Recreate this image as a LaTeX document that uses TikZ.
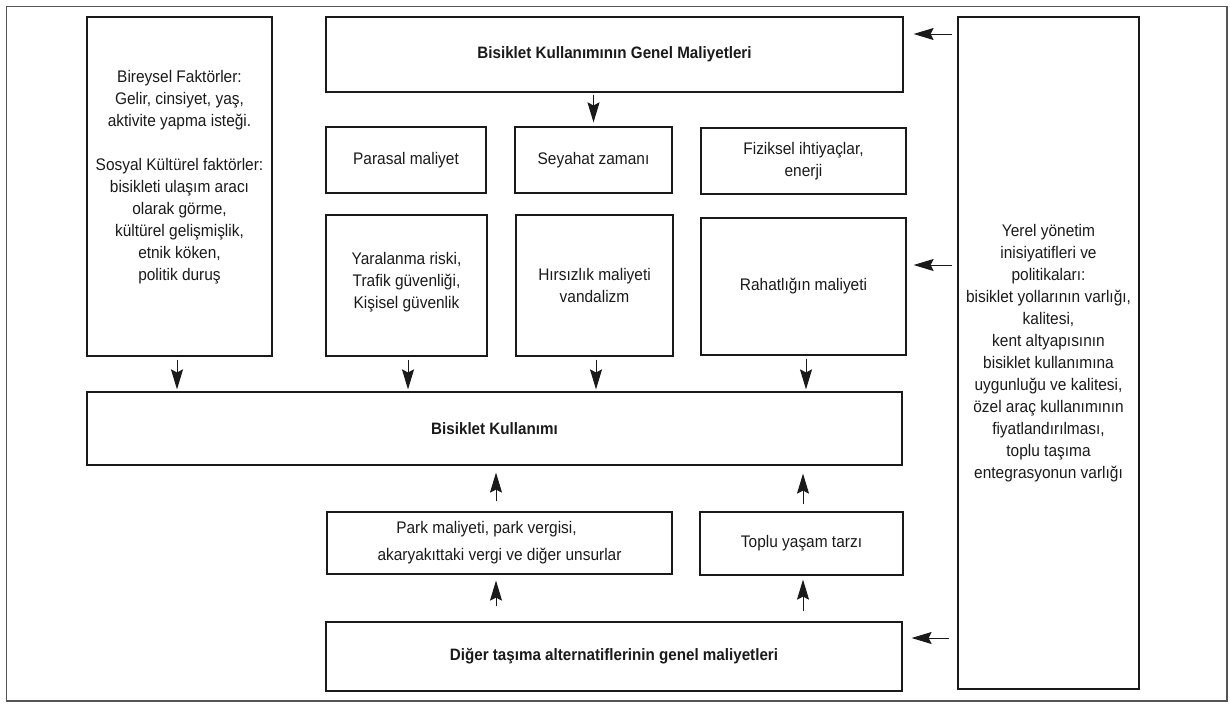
\documentclass[tikz,border=0pt]{standalone}
\usepackage{fontspec}
\setmainfont{Liberation Sans}[FakeStretch=0.92]
\usetikzlibrary{arrows.meta,calc}
\definecolor{ink}{HTML}{1A1A1A}
\definecolor{framegray}{HTML}{555555}
\tikzset{
  box/.style={draw=ink, line width=1.2pt, rectangle, align=center, text=ink, inner sep=0pt,
    font=\fontsize{16.8}{22}\selectfont},
  bbox/.style={box, font=\fontsize{16.5}{22}\selectfont\bfseries},
  arr/.style={draw=ink, line width=1pt, -{Stealth[length=20pt,width=12pt,inset=3pt]}},
}
\begin{document}
\begin{tikzpicture}[x=1pt,y=-1pt]
\useasboundingbox (0,0) rectangle (1230,704);
\draw[framegray, line width=1.6pt] (6.5,6.5) rectangle (1227,701);
% left box
\node[box, minimum width=185, minimum height=339] (lbox) at (179.5,186.5)
 {Bireysel Faktörler:\\Gelir, cinsiyet, yaş,\\aktivite yapma isteği.\\ \\Sosyal Kültürel faktörler:\\bisikleti ulaşım aracı\\olarak görme,\\kültürel gelişmişlik,\\etnik köken,\\politik duruş\\ \mbox{}};
% top box
\node[bbox, minimum width=577, minimum height=75] (top) at (614.5,54.5) {Bisiklet Kullanımının Genel Maliyetleri};
% row 2
\node[box, minimum width=160, minimum height=66] (par) at (406,160) {Parasal maliyet};
\node[box, minimum width=157, minimum height=66] (sey) at (593.5,160) {Seyahat zamanı};
\node[box, minimum width=205, minimum height=66] (fiz) at (803.5,161) {Fiziksel ihtiyaçlar,\\enerji};
% row 3
\node[box, minimum width=161, minimum height=141] (yar) at (406.5,285.5) {Yaralanma riski,\\Trafik güvenliği,\\Kişisel güvenlik\\[-11pt]\mbox{}};
\node[box, minimum width=157, minimum height=141] (hir) at (594.5,285.5) {Hırsızlık maliyeti\\vandalizm};
\node[box, minimum width=205, minimum height=137] (rah) at (803.5,286.5) {Rahatlığın maliyeti};
% bisiklet kullanimi
\node[bbox, minimum width=815, minimum height=73] (bk) at (494.5,428.5) {Bisiklet Kullanımı};
% lower row
\node[box, minimum width=345, minimum height=62, font=\fontsize{16.8}{27}\selectfont] (park) at (499.5,543)
 {Park maliyeti, park vergisi,\hspace*{26pt}\\akaryakıttaki vergi ve diğer unsurlar};
\node[box, minimum width=203, minimum height=63] (top2) at (801.5,543.5) {Toplu yaşam tarzı};
\node[bbox, minimum width=576, minimum height=69] (dig) at (614,656.5) {Diğer taşıma alternatiflerinin genel maliyetleri};
% right box
\node[box, minimum width=181, minimum height=672] (rbox) at (1048.5,353)
 {Yerel yönetim\\inisiyatifleri ve\\politikaları:\\bisiklet yollarının varlığı,\\kalitesi,\\kent altyapısının\\bisiklet kullanımına\\uygunluğu ve kalitesi,\\özel araç kullanımının\\fiyatlandırılması,\\toplu taşıma\\entegrasyonun varlığı};
% arrows
\draw[arr, shorten <=2pt, shorten >=4pt] (top.south -| sey.north) -- (sey.north);
\draw[arr, shorten <=3pt, shorten >=2pt] ([xshift=-2.5pt]lbox.south) -- ([xshift=-2.5pt]lbox.south |- bk.north);
\draw[arr, shorten <=3pt, shorten >=2pt] ([xshift=1.5pt]yar.south) -- ([xshift=1.5pt]yar.south |- bk.north);
\draw[arr, shorten <=3pt, shorten >=2pt] ([xshift=1.5pt]hir.south) -- ([xshift=1.5pt]hir.south |- bk.north);
\draw[arr, shorten <=3pt, shorten >=2pt] ([xshift=2.5pt]rah.south) -- ([xshift=2.5pt]rah.south |- bk.north);
\draw[arr, shorten <=10pt, shorten >=7pt] ([xshift=-3.5pt]park.north) -- ([xshift=-3.5pt]park.north |- bk.south);
\draw[arr, shorten <=15pt, shorten >=6pt] ([xshift=-3.5pt]park.south |- dig.north) -- ([xshift=-3.5pt]park.south);
\draw[arr, shorten <=7pt, shorten >=8pt] ([xshift=1.5pt]top2.north) -- ([xshift=1.5pt]top2.north |- bk.south);
\draw[arr, shorten <=10pt, shorten >=4pt] ([xshift=1.5pt]top2.south |- dig.north) -- ([xshift=1.5pt]top2.south);
\draw[arr, shorten <=5pt, shorten >=10pt] ([yshift=20.5pt]top.east -| rbox.west) -- ([yshift=20.5pt]top.east);
\draw[arr, shorten <=5pt, shorten >=7pt] ([yshift=21.5pt]rah.east -| rbox.west) -- ([yshift=21.5pt]rah.east);
\draw[arr, shorten <=8pt, shorten >=9pt] ([yshift=18.5pt]dig.east -| rbox.west) -- ([yshift=18.5pt]dig.east);
\end{tikzpicture}
\end{document}
